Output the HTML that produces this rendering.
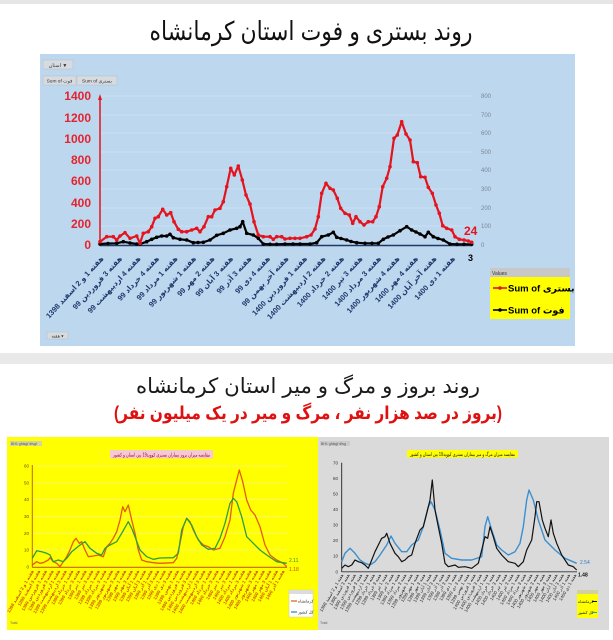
<!DOCTYPE html>
<html><head><meta charset="utf-8">
<style>
html,body{margin:0;padding:0;background:#fff;}
body{width:613px;height:640px;overflow:hidden;}
svg{display:block;}
text{font-family:"Liberation Sans","DejaVu Sans",sans-serif;}
</style></head>
<body>
<svg width="613" height="640" viewBox="0 0 613 640" xmlns="http://www.w3.org/2000/svg">
<defs>
<marker id="mr" markerWidth="5" markerHeight="5" refX="2.5" refY="2.5" markerUnits="userSpaceOnUse"><circle cx="2.5" cy="2.5" r="1.8" fill="#e3141e"/></marker>
<marker id="mb" markerWidth="5" markerHeight="5" refX="2.5" refY="2.5" markerUnits="userSpaceOnUse"><circle cx="2.5" cy="2.5" r="1.8" fill="#000"/></marker>
</defs>

<rect x="0" y="0" width="613" height="640" fill="#ffffff"/>
<rect x="0" y="0" width="613" height="4" fill="#e6e6e6"/>
<rect x="0" y="353" width="613" height="11" fill="#e9e9e9"/>

<text x="311" y="40" font-size="26" text-anchor="middle" fill="#111" textLength="323" lengthAdjust="spacingAndGlyphs">روند بستری و فوت استان کرمانشاه</text>

<rect x="40" y="54" width="535" height="292" fill="#bdd7ee"/>
<g stroke="#c9e0f4" stroke-width="1">
<line x1="100" y1="96" x2="472" y2="96"/>
<line x1="100" y1="115" x2="472" y2="115"/>
<line x1="100" y1="133" x2="472" y2="133"/>
<line x1="100" y1="152" x2="472" y2="152"/>
<line x1="100" y1="170" x2="472" y2="170"/>
<line x1="100" y1="189" x2="472" y2="189"/>
<line x1="100" y1="208" x2="472" y2="208"/>
<line x1="100" y1="226" x2="472" y2="226"/>
</g>

<rect x="43" y="60" width="30" height="9" fill="#d6dbe0" stroke="#b8bec5" stroke-width="0.5"/>
<text x="58" y="67" font-size="5" text-anchor="middle" fill="#333">استان ▼</text>
<rect x="43" y="76" width="33" height="9" fill="#d6dbe0" stroke="#b8bec5" stroke-width="0.5"/>
<text x="59.5" y="82.5" font-size="4.8" text-anchor="middle" fill="#333">Sum of فوت</text>
<rect x="77" y="76" width="40" height="9" fill="#d6dbe0" stroke="#b8bec5" stroke-width="0.5"/>
<text x="97" y="82.5" font-size="4.8" text-anchor="middle" fill="#333">Sum of بستری</text>
<rect x="47" y="332" width="21" height="7" fill="#d6dbe0" stroke="#b8bec5" stroke-width="0.5"/>
<text x="57.5" y="337.5" font-size="4.5" text-anchor="middle" fill="#333">هفته ▾</text>

<g font-size="12" font-weight="bold" fill="#e4232f" text-anchor="end">
<text x="91" y="100">1400</text>
<text x="91" y="122">1200</text>
<text x="91" y="143">1000</text>
<text x="91" y="164">800</text>
<text x="91" y="185">600</text>
<text x="91" y="207">400</text>
<text x="91" y="228">200</text>
<text x="91" y="249">0</text>
</g>
<g font-size="6" fill="#7a8796" text-anchor="start">
<text x="481" y="98">800</text>
<text x="481" y="117">700</text>
<text x="481" y="135">600</text>
<text x="481" y="154">500</text>
<text x="481" y="172">400</text>
<text x="481" y="191">300</text>
<text x="481" y="210">200</text>
<text x="481" y="228">100</text>
<text x="481" y="247">0</text>
</g>

<line x1="100" y1="246" x2="100" y2="99" stroke="#e3141e" stroke-width="1.5"/>
<polygon points="100,94 98,100 102,100" fill="#e3141e"/>
<line x1="100" y1="245.5" x2="472" y2="245.5" stroke="#1f3864" stroke-width="1.6"/>

<polyline fill="none" stroke="#000" stroke-width="2.2" stroke-linejoin="round" marker-start="url(#mb)" marker-mid="url(#mb)" marker-end="url(#mb)"
points="100,244 108,243.5 116.7,243.3 123.3,241.7 130,243 136.7,244 140,244 146.7,241.7 151.7,239.3 156.7,237.3 161.7,236 166.7,236 170,234.3 173.3,237.7 180,239.3 186.7,240 193.3,242.7 198,242.5 203.3,242.3 210,240 216.7,235.3 223.3,233.3 230,230 236.7,228.3 240,226.7 242.7,221.7 246.7,233.3 253.3,235 258.3,238.3 263.3,244 270,244.3 276.7,244.3 285,244 293,244 300,244 310,244 316.7,242.7 321.7,236.7 328.3,235 333.3,232.3 336.7,237.3 341,238.5 346.7,240 351,241.5 356.7,242.7 365,243.3 372,243.3 378.3,243.3 383.3,239.3 388,237 393.3,235 400,230.7 406.7,226.7 411.7,230 416,232 420,234 425,236.7 428.3,232.3 433.3,236.7 438,238.5 443.3,240 450,244 457,244.3 464,244.3 471.7,244.3"/>
<polyline fill="none" stroke="#e3141e" stroke-width="2.2" stroke-linejoin="round" marker-start="url(#mr)" marker-mid="url(#mr)" marker-end="url(#mr)"
points="100,241.7 106.7,236.7 113.3,236.7 116.7,240 120,236 125,232.7 130,238.3 136.7,236 140,243.3 143.3,233.3 148.3,231.7 151.7,226.7 155,218.3 158.3,216.7 162.7,209.3 166.7,215 170.7,212.7 174,221.7 178.3,229.3 181.7,231.7 186.7,231.7 191.7,230 196.7,228.3 200,231.7 204,226.7 208.3,216.7 211.7,216.7 215,210 220,208.3 223.3,201.7 226.7,186.7 230.7,168.3 234.3,175 238.3,166 242.3,180 246,195 250,204 254,221.7 258.3,235 263.3,236.7 270,236.7 273.3,239.3 276.7,236.7 281.7,236.7 285,239 290,238.3 295,238.3 300,238.3 306.7,236.7 311,235 315,229 318.3,216.7 321.7,193.3 326,183.3 330,188.3 333.3,190 337.3,198.3 340.7,208.3 345,213.3 349.3,215 352.7,223.3 356,216.7 360,221.7 364,225 368.3,221.7 372.7,221.7 376,216.7 379.3,206.7 382.7,186.7 386.7,178.3 390,166.7 394,138.3 397.3,135 401.7,121.7 406,134 410,140 413.3,161.7 417.3,162.7 420.7,176.7 425,177.3 428.3,187.3 432.3,193.3 436,205 439.3,213.3 442.7,225.7 446.7,228.3 451.7,230 455,236.7 459.3,239.3 464,240 468.3,241 471.7,242.3"/>

<text x="464" y="235" font-size="12" font-weight="bold" fill="#e3141e">24</text>
<text x="468" y="261" font-size="9" font-weight="bold" fill="#000">3</text>

<g font-size="7.5" font-weight="bold" fill="#1f3a6e" text-anchor="end">
<text transform="translate(104,259) rotate(-47.5)">هفته 1 و 2 اسفند 1398</text>
<text transform="translate(122.5,259) rotate(-47.5)">هفته 3 فروردین 99</text>
<text transform="translate(141,259) rotate(-47.5)">هفته 4 اردیبهشت 99</text>
<text transform="translate(159.5,259) rotate(-47.5)">هفته 4 خرداد 99</text>
<text transform="translate(178,259) rotate(-47.5)">هفته 1 مرداد 99</text>
<text transform="translate(196.5,259) rotate(-47.5)">هفته 1 شهریور 99</text>
<text transform="translate(215,259) rotate(-47.5)">هفته 2 مهر 99</text>
<text transform="translate(233.5,259) rotate(-47.5)">هفته 3 آبان 99</text>
<text transform="translate(252,259) rotate(-47.5)">هفته 3 آذر 99</text>
<text transform="translate(270.5,259) rotate(-47.5)">هفته 4 دی 99</text>
<text transform="translate(289,259) rotate(-47.5)">هفته آخر بهمن 99</text>
<text transform="translate(307.5,259) rotate(-47.5)">هفته 1 فروردین 1400</text>
<text transform="translate(326,259) rotate(-47.5)">هفته 2 اردیبهشت 1400</text>
<text transform="translate(344.5,259) rotate(-47.5)">هفته 2 خرداد 1400</text>
<text transform="translate(363,259) rotate(-47.5)">هفته 3 تیر 1400</text>
<text transform="translate(381.5,259) rotate(-47.5)">هفته 3 مرداد 1400</text>
<text transform="translate(400,259) rotate(-47.5)">هفته 4 شهریور 1400</text>
<text transform="translate(418.5,259) rotate(-47.5)">هفته 4 مهر 1400</text>
<text transform="translate(437,259) rotate(-47.5)">هفته آخر آبان 1400</text>
<text transform="translate(455.5,259) rotate(-47.5)">هفته 1 دی 1400</text>
</g>

<rect x="490" y="268" width="80" height="9" fill="#c8c8c8"/>
<text x="492" y="275" font-size="5" fill="#333">Values</text>
<rect x="490" y="277" width="80" height="42" fill="#ffff00"/>
<line x1="493" y1="288" x2="507" y2="288" stroke="#e3141e" stroke-width="1.6"/>
<circle cx="500" cy="288" r="1.8" fill="#e3141e"/>
<text x="508" y="291.5" font-size="9.5" font-weight="bold" fill="#000">Sum of بستری</text>
<line x1="493" y1="310" x2="507" y2="310" stroke="#000" stroke-width="1.6"/>
<circle cx="500" cy="310" r="1.8" fill="#000"/>
<text x="508" y="313.5" font-size="9.5" font-weight="bold" fill="#000">Sum of فوت</text>

<text x="308" y="393" font-size="21" text-anchor="middle" fill="#1a1a1a" textLength="344" lengthAdjust="spacingAndGlyphs">روند بروز و مرگ و میر استان کرمانشاه</text>
<text x="308" y="419" font-size="18" font-weight="bold" text-anchor="middle" fill="#e01010" textLength="388" lengthAdjust="spacingAndGlyphs">(بروز در صد هزار نفر ، مرگ و میر در یک میلیون نفر)</text>

<rect x="7" y="437" width="311" height="193" fill="#ffff00"/>
<rect x="10" y="441" width="32" height="5" fill="#d4d4a0"/>
<text x="11" y="445" font-size="3.5" fill="#555">BH1 gfdsgf dfsgf</text>
<rect x="110" y="450" width="103" height="8.5" fill="#f6c9d6"/>
<text x="161.5" y="456.5" font-size="5" text-anchor="middle" fill="#a00000" textLength="97" lengthAdjust="spacingAndGlyphs">مقایسه میزان بروز بیماران بستری کووید19 بین استان و کشور</text>
<g stroke="#f4f48c" stroke-width="0.7">
<line x1="32" y1="466" x2="287" y2="466"/>
<line x1="32" y1="483" x2="287" y2="483"/>
<line x1="32" y1="499.5" x2="287" y2="499.5"/>
<line x1="32" y1="516.5" x2="287" y2="516.5"/>
<line x1="32" y1="533.5" x2="287" y2="533.5"/>
<line x1="32" y1="550" x2="287" y2="550"/>
</g>
<g font-size="4.5" fill="#6a4a10" text-anchor="end">
<text x="29" y="467.5">60</text><text x="29" y="484.5">50</text><text x="29" y="501">40</text>
<text x="29" y="518">30</text><text x="29" y="535">20</text><text x="29" y="551.5">10</text><text x="29" y="568.5">0</text>
</g>
<line x1="32.3" y1="465" x2="32.3" y2="567.5" stroke="#c06a00" stroke-width="1"/>
<line x1="32.3" y1="567.3" x2="287" y2="567.3" stroke="#c06a00" stroke-width="1.2"/>
<polyline fill="none" stroke="#e65a0c" stroke-width="1.3" stroke-linejoin="round"
points="32.3,565 36.7,561.7 40,563.3 43.3,562.7 48.3,560 50,557.7 53.3,561.7 56.7,563.3 60,566.7 63.3,561.7 66.7,556.7 70,550 73.3,541.7 76,538.3 79.3,543.3 81.7,541.7 85,550 88.3,556.7 93.3,556 98.3,555 103.3,556.7 106.7,546.7 110,543.3 113.3,538.3 116.7,531.7 120,520 122.7,506.7 125,511.7 128.3,505 131.7,520 135,533.3 138.3,550 141.7,560 146.7,561.7 153.3,562.7 160,563.3 173.3,562.7 176.7,558.3 180,543.3 183.3,526.7 186.7,518.3 190,521.7 193.3,530 198.3,540 203.3,545 208.3,546.7 213.3,550 220,548.3 225,536.7 230,520 233.3,493.3 236.7,480 239.3,470 242.7,481.7 246.7,500 250.7,510 255,515 260,526.7 265,545 270,555 276.7,560 283.3,563.3 286.7,566.7"/>
<polyline fill="none" stroke="#2e9e3e" stroke-width="1.3" stroke-linejoin="round"
points="32.3,558.3 36.7,550.7 41.7,551.7 46.7,553.3 50,555 53.3,561.7 58.3,560 63.3,561.7 66.7,558.3 71.7,551.7 80,545 85,541.7 90,548.3 96.7,553.3 101.7,555 105,548.3 110,545 116.7,541.7 121.7,533.3 128.3,521.7 131.7,528.3 135,536.7 140,550 146.7,556.7 153.3,559.3 160,558 173.3,557.7 178.3,553.3 181.7,530 186.7,518.3 191.7,525 196.7,536.7 201.7,545 208.3,549.3 215,548.3 220,538.3 225,523.3 230,503.3 233.3,498.3 236.7,501.7 241.7,516.7 246.7,536.7 253.3,543.3 260,550 266.7,555 276.7,561.7 286.7,563.3"/>
<text x="289" y="562" font-size="5" fill="#2e8e3e">2.11</text>
<text x="289" y="571" font-size="5" fill="#c05000">1.18</text>
<g font-size="4.5" font-weight="bold" fill="#cc5a00" text-anchor="end">
<text transform="translate(34,571) rotate(-60)">هفته 1 و 2 اسفند 1398</text>
<text transform="translate(40.6,571) rotate(-60)">هفته 3 اسفند 1398</text>
<text transform="translate(47.2,571) rotate(-60)">هفته 1 فروردین 1399</text>
<text transform="translate(53.8,571) rotate(-60)">هفته 3 فروردین 1399</text>
<text transform="translate(60.4,571) rotate(-60)">هفته 1 اردیبهشت 1399</text>
<text transform="translate(67,571) rotate(-60)">هفته 3 اردیبهشت 1399</text>
<text transform="translate(73.6,571) rotate(-60)">هفته 1 خرداد 1399</text>
<text transform="translate(80.2,571) rotate(-60)">هفته 3 خرداد 1399</text>
<text transform="translate(86.8,571) rotate(-60)">هفته 1 تیر 1399</text>
<text transform="translate(93.4,571) rotate(-60)">هفته 3 تیر 1399</text>
<text transform="translate(100,571) rotate(-60)">هفته 1 مرداد 1399</text>
<text transform="translate(106.6,571) rotate(-60)">هفته 3 مرداد 1399</text>
<text transform="translate(113.2,571) rotate(-60)">هفته 1 شهریور 1399</text>
<text transform="translate(119.8,571) rotate(-60)">هفته 3 شهریور 1399</text>
<text transform="translate(126.4,571) rotate(-60)">هفته 1 مهر 1399</text>
<text transform="translate(133,571) rotate(-60)">هفته 3 مهر 1399</text>
<text transform="translate(139.6,571) rotate(-60)">هفته 1 آبان 1399</text>
<text transform="translate(146.2,571) rotate(-60)">هفته 3 آبان 1399</text>
<text transform="translate(152.8,571) rotate(-60)">هفته 1 آذر 1399</text>
<text transform="translate(159.4,571) rotate(-60)">هفته 3 آذر 1399</text>
<text transform="translate(166,571) rotate(-60)">هفته 1 دی 1399</text>
<text transform="translate(172.6,571) rotate(-60)">هفته 3 دی 1399</text>
<text transform="translate(179.2,571) rotate(-60)">هفته 1 بهمن 1399</text>
<text transform="translate(185.8,571) rotate(-60)">هفته 1 فروردین 1400</text>
<text transform="translate(192.4,571) rotate(-60)">هفته 3 فروردین 1400</text>
<text transform="translate(199,571) rotate(-60)">هفته 1 اردیبهشت 1400</text>
<text transform="translate(205.6,571) rotate(-60)">هفته 3 اردیبهشت 1400</text>
<text transform="translate(212.2,571) rotate(-60)">هفته 1 خرداد 1400</text>
<text transform="translate(218.8,571) rotate(-60)">هفته 3 خرداد 1400</text>
<text transform="translate(225.4,571) rotate(-60)">هفته 1 تیر 1400</text>
<text transform="translate(232,571) rotate(-60)">هفته 3 تیر 1400</text>
<text transform="translate(238.6,571) rotate(-60)">هفته 1 مرداد 1400</text>
<text transform="translate(245.2,571) rotate(-60)">هفته 3 مرداد 1400</text>
<text transform="translate(251.8,571) rotate(-60)">هفته 1 شهریور 1400</text>
<text transform="translate(258.4,571) rotate(-60)">هفته 3 شهریور 1400</text>
<text transform="translate(265,571) rotate(-60)">هفته 1 مهر 1400</text>
<text transform="translate(271.6,571) rotate(-60)">هفته 3 مهر 1400</text>
<text transform="translate(278.2,571) rotate(-60)">هفته 1 آبان 1400</text>
<text transform="translate(284.8,571) rotate(-60)">هفته 1 آذر 1400</text>
</g>
<rect x="289" y="590" width="24" height="27" fill="#ffffff" stroke="#c8c8c8" stroke-width="0.5"/>
<rect x="289" y="590" width="24" height="4" fill="#dcdcdc"/>
<line x1="291" y1="601" x2="297" y2="601" stroke="#e65a0c" stroke-width="1.2"/>
<text x="298" y="602.5" font-size="4" fill="#222">کرمانشاه</text>
<line x1="291" y1="612" x2="297" y2="612" stroke="#2e7ebe" stroke-width="1.2"/>
<text x="298" y="613.5" font-size="4" fill="#222">کل کشور</text>
<text x="10" y="624" font-size="3.5" fill="#666">Total</text>

<rect x="318" y="437" width="291" height="193" fill="#dadada"/>
<rect x="320" y="441" width="30" height="5" fill="#cbcbcb"/>
<text x="321" y="445" font-size="3.5" fill="#555">BH1 gfdsgf dfsg</text>
<rect x="407" y="450" width="111" height="7.5" fill="#ffff00"/>
<text x="462.5" y="455.8" font-size="5" text-anchor="middle" fill="#111" textLength="105" lengthAdjust="spacingAndGlyphs">مقایسه میزان مرگ و میر بیماران بستری کووید19 بین استان و کشور</text>
<g font-size="4.5" fill="#333" text-anchor="end">
<text x="338" y="464.5">70</text><text x="338" y="480">60</text><text x="338" y="495.5">50</text>
<text x="338" y="511">40</text><text x="338" y="526.5">30</text><text x="338" y="542">20</text>
<text x="338" y="557.5">10</text><text x="338" y="573.5">0</text>
</g>
<line x1="341.7" y1="462.7" x2="341.7" y2="572" stroke="#222" stroke-width="0.9"/>
<line x1="341.7" y1="571.8" x2="577" y2="571.8" stroke="#333" stroke-width="0.9"/>
<polyline fill="none" stroke="#3a8fd0" stroke-width="1.4" stroke-linejoin="round"
points="341.7,561.7 345,553.3 350,548.3 355,553.3 360,560 365,563.3 370,565 375,561.7 380,555 386.7,545 391,536 395,543.3 401.7,551.7 406.7,551.7 411.7,545 418.3,540 423.3,526.7 428.3,506.7 431,501.7 435,510 440,530 445,553.3 451.7,558.3 461.7,560 471.7,560 481.7,556.7 485,526.7 487.7,516.7 491.7,530 496.7,545 501.7,550 508.3,555 515,551.7 520,543.3 523.3,526.7 526.7,500 529,490 533.3,500 538.3,520 545,540 555,550 565,558.3 576.7,563.3"/>
<polyline fill="none" stroke="#111" stroke-width="1.2" stroke-linejoin="round"
points="341.7,568.3 345,565 348.3,566.7 351.7,565 355,560 358.3,561.7 361.7,562.7 365,565 368.3,568.3 371.7,560 375,551.7 378.3,545 381.7,538.3 385,536.7 386.7,533.3 390,543.3 395,553.3 398.3,556.7 401.7,561.7 405,560 408.3,556.7 411.7,555 415,543.3 420,530 423.3,526.7 426.7,513.3 430,500 432.3,480 435,510 438.3,526.7 441.7,543.3 445,563.3 448.3,566.7 455,565 458.3,567.3 465,566.7 471.7,568.3 478.3,563.3 481.7,550 485,536.7 487.7,538.3 490,526.7 493.3,536.7 496.7,548.3 501.7,555 508.3,561.7 515,563.3 518.3,566.7 523.3,561.7 526.7,550 531.7,540 535,516.7 536.7,501.7 539,501.7 542.3,520 545,528.3 548.3,536.7 551,520 553.3,533.3 556.7,543.3 561.7,555 568.3,565 573.3,566.7 576.7,570"/>
<text x="580" y="564" font-size="5" fill="#2e7ebe">2.54</text>
<text x="578" y="576.5" font-size="5" font-weight="bold" fill="#111">1.48</text>
<g font-size="4.5" fill="#222" text-anchor="end">
<text transform="translate(343.5,575) rotate(-60)">هفته 1 و 2 اسفند 1398</text>
<text transform="translate(349.8,575) rotate(-60)">هفته 3 اسفند 1398</text>
<text transform="translate(356.1,575) rotate(-60)">هفته 1 فروردین 1399</text>
<text transform="translate(362.4,575) rotate(-60)">هفته 3 فروردین 1399</text>
<text transform="translate(368.7,575) rotate(-60)">هفته 1 اردیبهشت 1399</text>
<text transform="translate(375,575) rotate(-60)">هفته 1 خرداد 1399</text>
<text transform="translate(381.3,575) rotate(-60)">هفته 3 خرداد 1399</text>
<text transform="translate(387.6,575) rotate(-60)">هفته 1 تیر 1399</text>
<text transform="translate(393.9,575) rotate(-60)">هفته 3 تیر 1399</text>
<text transform="translate(400.2,575) rotate(-60)">هفته 1 مرداد 1399</text>
<text transform="translate(406.5,575) rotate(-60)">هفته 3 مرداد 1399</text>
<text transform="translate(412.8,575) rotate(-60)">هفته 1 شهریور 1399</text>
<text transform="translate(419.1,575) rotate(-60)">هفته 1 مهر 1399</text>
<text transform="translate(425.4,575) rotate(-60)">هفته 3 مهر 1399</text>
<text transform="translate(431.7,575) rotate(-60)">هفته 1 آبان 1399</text>
<text transform="translate(438,575) rotate(-60)">هفته 3 آبان 1399</text>
<text transform="translate(444.3,575) rotate(-60)">هفته 1 آذر 1399</text>
<text transform="translate(450.6,575) rotate(-60)">هفته 3 آذر 1399</text>
<text transform="translate(456.9,575) rotate(-60)">هفته 1 دی 1399</text>
<text transform="translate(463.2,575) rotate(-60)">هفته 3 دی 1399</text>
<text transform="translate(469.5,575) rotate(-60)">هفته 1 بهمن 1399</text>
<text transform="translate(475.8,575) rotate(-60)">هفته 1 فروردین 1400</text>
<text transform="translate(482.1,575) rotate(-60)">هفته 3 فروردین 1400</text>
<text transform="translate(488.4,575) rotate(-60)">هفته 1 اردیبهشت 1400</text>
<text transform="translate(494.7,575) rotate(-60)">هفته 1 خرداد 1400</text>
<text transform="translate(501,575) rotate(-60)">هفته 3 خرداد 1400</text>
<text transform="translate(507.3,575) rotate(-60)">هفته 1 تیر 1400</text>
<text transform="translate(513.6,575) rotate(-60)">هفته 3 تیر 1400</text>
<text transform="translate(519.9,575) rotate(-60)">هفته 1 مرداد 1400</text>
<text transform="translate(526.2,575) rotate(-60)">هفته 3 مرداد 1400</text>
<text transform="translate(532.5,575) rotate(-60)">هفته 1 شهریور 1400</text>
<text transform="translate(538.8,575) rotate(-60)">هفته 3 شهریور 1400</text>
<text transform="translate(545.1,575) rotate(-60)">هفته 1 مهر 1400</text>
<text transform="translate(551.4,575) rotate(-60)">هفته 3 مهر 1400</text>
<text transform="translate(557.7,575) rotate(-60)">هفته 1 آبان 1400</text>
<text transform="translate(564,575) rotate(-60)">هفته 3 آبان 1400</text>
<text transform="translate(570.3,575) rotate(-60)">هفته 1 آذر 1400</text>
<text transform="translate(576.6,575) rotate(-60)">هفته 1 دی 1400</text>
</g>
<rect x="577" y="590" width="21" height="28" fill="#ffff00"/>
<rect x="577" y="590" width="21" height="4" fill="#d0d0a0"/>
<text x="578" y="603" font-size="4" fill="#111">کرمانشاه</text>
<line x1="592" y1="601.5" x2="597" y2="601.5" stroke="#111" stroke-width="1"/>
<text x="578" y="614" font-size="4" fill="#111">کل کشور</text>
<line x1="592" y1="612.5" x2="597" y2="612.5" stroke="#3a8fd0" stroke-width="1"/>
<text x="320" y="624" font-size="3.5" fill="#666">Total</text>
</svg>
</body></html>
